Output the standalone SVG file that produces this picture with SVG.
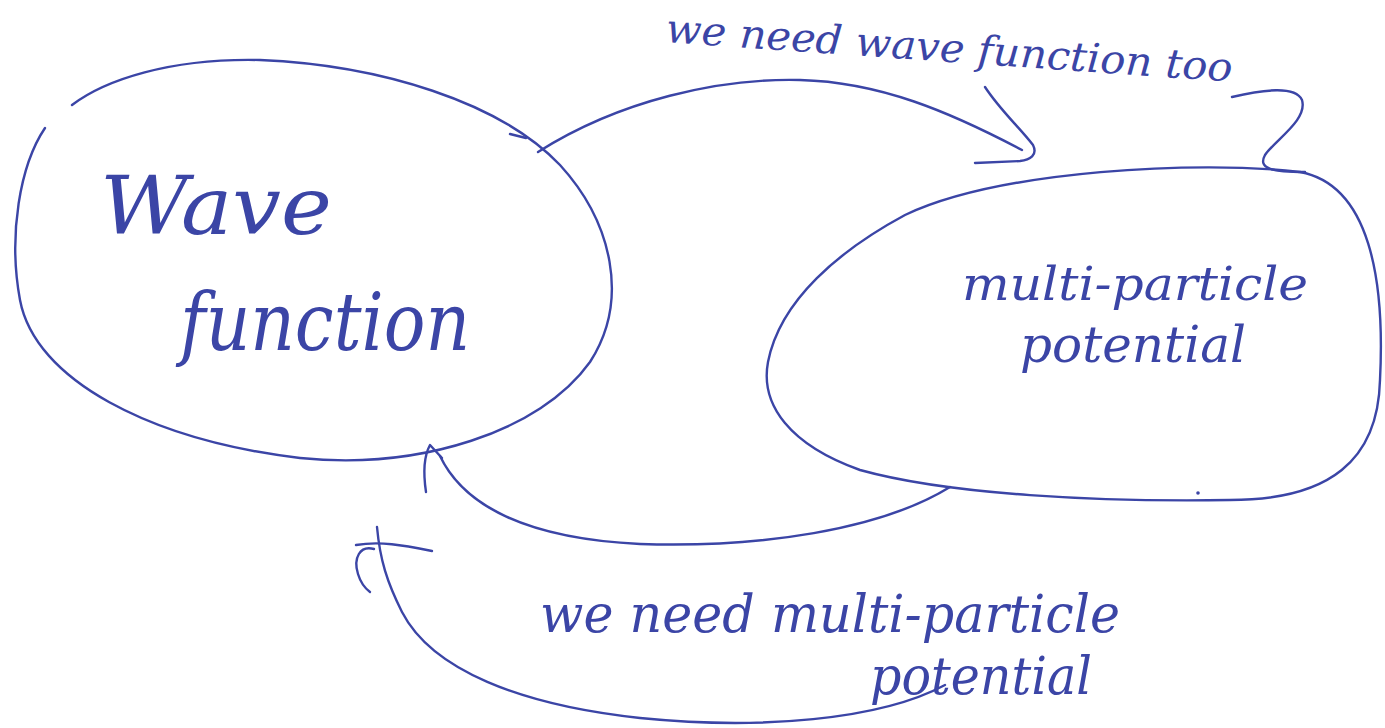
<svg xmlns="http://www.w3.org/2000/svg" width="1385" height="728" viewBox="0 0 1385 728">
<style>
.ink{fill:none;stroke:#3b45a6;stroke-width:2.4;stroke-linecap:round;stroke-linejoin:round}
.hw{fill:#3b45a6;font-family:"DejaVu Serif","Liberation Serif",serif;font-style:italic}
</style>
<rect width="1385" height="728" fill="#ffffff"/>
<g id="node-wave-function">
<path class="ink" d="M45,128 C20,165 8,235 20,300 C35,380 150,440 300,458 C420,470 540,432 590,362 C630,300 612,222 560,165 C500,102 380,65 260,60 C170,58 105,80 72,105"/>
<path class="ink" d="M510,134 L526,138"/>
<text class="hw" x="100" y="234" font-size="80" textLength="232" lengthAdjust="spacingAndGlyphs">Wave</text>
<text class="hw" x="180" y="350" font-size="80" textLength="290" lengthAdjust="spacingAndGlyphs">function</text>
</g>
<g id="node-multi-particle-potential">
<path class="ink" d="M905,215 C1000,170 1200,160 1300,172 C1370,185 1385,280 1380,380 C1378,460 1330,500 1230,500 C1100,502 950,495 860,470 C790,445 760,405 768,362 C780,300 840,250 905,215 Z"/>
<circle cx="1198" cy="493" r="1.8" fill="#3b45a6"/>
<text class="hw" x="962" y="300" font-size="46" textLength="346" lengthAdjust="spacingAndGlyphs">multi-particle</text>
<text class="hw" x="1020" y="362" font-size="50" textLength="226" lengthAdjust="spacingAndGlyphs">potential</text>
</g>
<g id="connectors">
<path class="ink" d="M538,152 C620,100 720,78 800,80 C880,82 950,112 1022,150"/>
<path class="ink" d="M985,87 C1000,110 1020,128 1033,145 C1038,155 1030,160 1020,161 L975,163"/>
<path class="ink" d="M1232,97 C1262,90 1295,85 1302,100 C1308,120 1275,140 1265,155 C1258,168 1270,172 1305,172"/>
<path class="ink" d="M950,487 C880,530 760,548 640,544 C520,538 462,502 440,456"/>
<path class="ink" d="M426,492 C423,472 424,456 430,445 L442,458"/>
<path class="ink" d="M945,685 C880,720 760,730 640,718 C520,705 432,670 402,612 C387,582 380,560 377,527"/>
<path class="ink" d="M356,545 C380,541 402,545 432,551"/>
<path class="ink" d="M374,549 C360,545 353,558 358,574 C361,584 366,589 370,592"/>
</g>
<g id="labels">
<text class="hw" x="665" y="42" font-size="40" transform="rotate(4 665 42)" textLength="568" lengthAdjust="spacingAndGlyphs">we need wave function too</text>
<text class="hw" x="540" y="632" font-size="52" textLength="580" lengthAdjust="spacingAndGlyphs">we need multi-particle</text>
<text class="hw" x="870" y="694" font-size="52" textLength="222" lengthAdjust="spacingAndGlyphs">potential</text>
</g>
</svg>
